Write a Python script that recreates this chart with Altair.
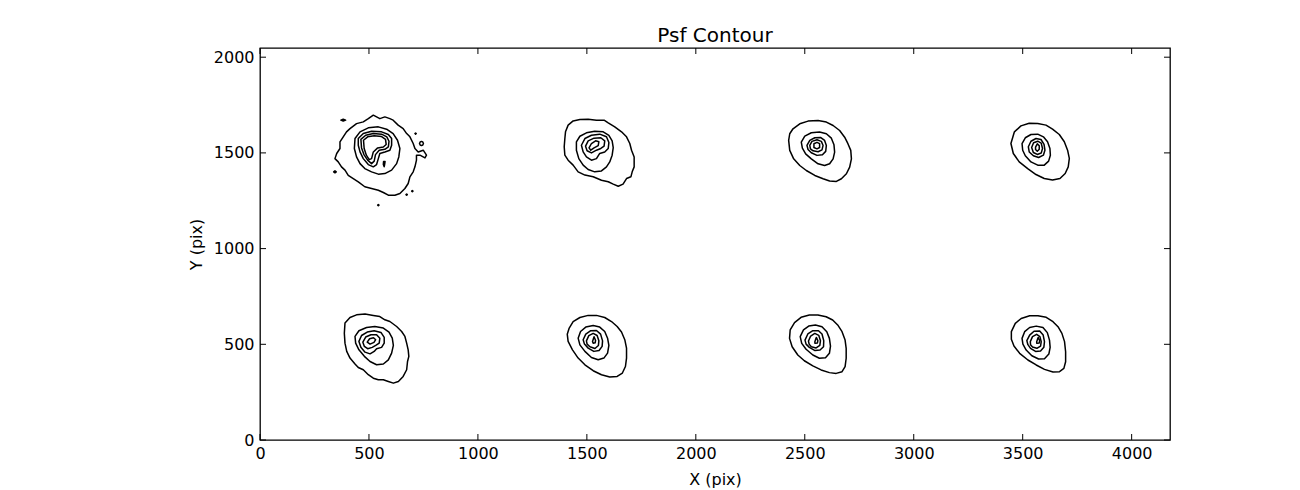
import altair as alt
import pandas as pd

# ---------------- data (pixel coordinates on the detector) ----------------
X_TICKS = [0, 500, 1000, 1500, 2000, 2500, 3000, 3500, 4000]
Y_TICKS = [0, 500, 1000, 1500, 2000]
X_MAX = 4176
Y_MAX = 2048

# PSF 1 (top-left)
P1_L1 = [(413, 1627), (443, 1653), (474, 1662), (497, 1679), (520, 1697), (535, 1688), (550, 1679),
         (573, 1688), (596, 1679), (611, 1671), (634, 1645), (657, 1627), (673, 1601), (688, 1584),
         (703, 1549), (711, 1523), (726, 1505), (749, 1514), (764, 1488), (757, 1474), (734, 1488),
         (718, 1488), (718, 1462), (711, 1427), (703, 1401), (688, 1375), (680, 1340), (665, 1314),
         (642, 1288), (619, 1279), (589, 1279), (566, 1293), (543, 1305), (512, 1314), (481, 1323),
         (451, 1349), (428, 1366), (405, 1383), (390, 1410), (374, 1427), (359, 1453), (344, 1470),
         (352, 1497), (367, 1523), (367, 1558), (382, 1584), (397, 1610)]
P1_L2 = [(436, 1575), (459, 1610), (497, 1631), (543, 1636), (581, 1624), (611, 1601), (631, 1566),
         (642, 1523), (637, 1479), (627, 1444), (604, 1410), (573, 1392), (543, 1389), (512, 1401),
         (481, 1418), (459, 1444), (443, 1479), (433, 1523)]
P1_L3 = [(451, 1575), (474, 1601), (512, 1613), (558, 1610), (589, 1596), (604, 1575), (604, 1540),
         (596, 1514), (573, 1505), (550, 1497), (543, 1470), (535, 1439), (520, 1427), (497, 1439),
         (474, 1470), (459, 1505), (451, 1540)]
P1_L4 = [(463, 1571), (485, 1592), (520, 1601), (558, 1598), (582, 1584), (592, 1561), (589, 1531),
         (573, 1519), (547, 1514), (530, 1491), (524, 1457), (512, 1444), (494, 1462), (477, 1491),
         (466, 1526)]
P1_L5 = [(475, 1566), (494, 1584), (524, 1589), (558, 1585), (576, 1571), (579, 1544), (566, 1531),
         (540, 1526), (520, 1505), (512, 1470), (501, 1465), (488, 1488), (478, 1523)]
P1_L6 = [(567, 1455), (574, 1455), (572, 1440), (570, 1428), (566, 1440)]
P1_D1 = [(371, 1671), (382, 1676), (393, 1671), (382, 1666)]
P1_D2 = [(338, 1401), (344, 1406), (350, 1401), (344, 1396)]
P1_D3 = [(732, 1549), (735, 1557), (741, 1560), (747, 1557), (750, 1549), (747, 1541), (741, 1538), (735, 1541)]
P1_D4 = [(670, 1282), (673, 1285), (676, 1282), (673, 1279)]
P1_D5 = [(696, 1300), (699, 1303), (702, 1300), (699, 1297)]
P1_D6 = [(540, 1227), (543, 1230), (546, 1227), (543, 1224)]
P1_D7 = [(711, 1601), (714, 1604), (717, 1601), (714, 1598)]

# PSF 2 (top, x~1500)
P2_L1 = [(1414, 1645), (1437, 1667), (1468, 1674), (1506, 1676), (1544, 1671), (1579, 1671),
         (1598, 1657), (1628, 1636), (1659, 1610), (1682, 1584), (1697, 1549), (1705, 1514),
         (1717, 1479), (1717, 1427), (1708, 1401), (1702, 1375), (1682, 1366), (1666, 1337),
         (1644, 1326), (1621, 1337), (1598, 1349), (1567, 1357), (1529, 1375), (1491, 1384),
         (1460, 1401), (1437, 1436), (1414, 1462), (1399, 1488), (1396, 1532), (1399, 1575), (1402, 1610)]
P2_L2 = [(1452, 1558), (1468, 1587), (1498, 1605), (1536, 1613), (1575, 1610), (1601, 1592),
         (1616, 1563), (1621, 1528), (1616, 1488), (1605, 1453), (1590, 1427), (1567, 1406),
         (1536, 1401), (1506, 1413), (1483, 1436), (1463, 1470), (1452, 1514)]
P2_L3 = [(1475, 1540), (1491, 1575), (1521, 1592), (1559, 1598), (1590, 1584), (1601, 1554),
         (1598, 1523), (1582, 1505), (1559, 1497), (1544, 1470), (1521, 1462), (1498, 1479), (1483, 1505)]
P2_L4 = [(1494, 1535), (1506, 1563), (1533, 1577), (1564, 1579), (1582, 1563), (1579, 1535),
         (1564, 1523), (1544, 1514), (1521, 1500), (1501, 1511)]
P2_L5 = [(1510, 1526), (1521, 1549), (1540, 1563), (1555, 1558), (1552, 1538), (1533, 1526), (1518, 1514)]

# PSF 3 (top, x~2550)
P3_L1 = [(2446, 1626), (2477, 1652), (2515, 1666), (2561, 1669), (2599, 1661), (2630, 1643),
         (2660, 1617), (2683, 1582), (2698, 1548), (2711, 1513), (2714, 1469), (2706, 1426),
         (2691, 1391), (2668, 1365), (2645, 1351), (2614, 1353), (2584, 1365), (2546, 1382),
         (2507, 1408), (2477, 1434), (2449, 1469), (2431, 1513), (2426, 1565), (2431, 1600)]
P3_L2 = [(2484, 1556), (2500, 1588), (2530, 1605), (2568, 1609), (2599, 1600), (2622, 1577),
         (2634, 1542), (2637, 1504), (2630, 1469), (2614, 1443), (2591, 1434), (2561, 1443),
         (2530, 1469), (2504, 1495), (2489, 1525)]
P3_L3 = [(2510, 1539), (2523, 1565), (2546, 1579), (2572, 1581), (2591, 1565), (2599, 1539),
         (2596, 1508), (2581, 1490), (2556, 1487), (2530, 1501), (2515, 1518)]
P3_L4 = [(2523, 1539), (2533, 1560), (2556, 1569), (2576, 1560), (2584, 1539), (2579, 1516),
         (2561, 1506), (2538, 1511), (2526, 1521)]
P3_L5 = [(2542, 1548), (2556, 1555), (2568, 1548), (2568, 1528), (2556, 1521), (2542, 1528)]

# PSF 4 (top, x~3570)
P4_L1 = [(3462, 1610), (3492, 1641), (3530, 1655), (3569, 1653), (3607, 1645), (3637, 1624),
         (3668, 1596), (3691, 1558), (3706, 1514), (3714, 1471), (3709, 1427), (3695, 1392),
         (3671, 1366), (3637, 1358), (3599, 1366), (3561, 1387), (3523, 1418), (3484, 1453),
         (3457, 1497), (3446, 1549)]
P4_L2 = [(3497, 1549), (3512, 1579), (3538, 1596), (3569, 1598), (3595, 1584), (3614, 1558),
         (3625, 1523), (3627, 1488), (3619, 1457), (3599, 1436), (3569, 1436), (3538, 1453),
         (3512, 1485), (3500, 1514)]
P4_L3 = [(3526, 1532), (3538, 1561), (3561, 1575), (3584, 1570), (3598, 1544), (3602, 1514),
         (3595, 1488), (3573, 1476), (3549, 1485), (3530, 1505)]
P4_L4 = [(3541, 1528), (3550, 1553), (3569, 1561), (3585, 1551), (3591, 1523), (3585, 1499),
         (3567, 1492), (3549, 1502)]
P4_L5 = [(3559, 1530), (3567, 1547), (3576, 1537), (3576, 1519), (3567, 1509), (3559, 1518)]

# PSF 5 (bottom, x~500)
P5_L1 = [(390, 611), (413, 640), (443, 654), (482, 658), (520, 651), (550, 645), (573, 628),
         (596, 619), (627, 593), (650, 567), (665, 541), (673, 506), (680, 471), (683, 437),
         (677, 410), (673, 367), (657, 332), (635, 306), (612, 297), (589, 306), (566, 315),
         (543, 315), (520, 323), (497, 341), (474, 367), (451, 379), (436, 397), (413, 428),
         (398, 463), (390, 506), (387, 558)]
P5_L2 = [(436, 541), (454, 571), (489, 588), (527, 593), (566, 585), (592, 564), (607, 532),
         (612, 494), (604, 454), (589, 419), (566, 397), (535, 393), (505, 410), (479, 437),
         (454, 471), (439, 506)]
P5_L3 = [(454, 515), (466, 546), (492, 564), (524, 571), (555, 562), (570, 536), (570, 506),
         (558, 484), (535, 477), (524, 463), (505, 450), (482, 459), (463, 484)]
P5_L4 = [(472, 511), (485, 538), (509, 550), (535, 550), (550, 532), (547, 506), (531, 494),
         (515, 484), (494, 477), (479, 489)]
P5_L5 = [(492, 511), (503, 529), (521, 534), (531, 524), (523, 510), (505, 501)]

# PSF 6 (bottom, x~1550)
P6_L1 = [(1419, 585), (1437, 619), (1468, 640), (1506, 651), (1544, 651), (1582, 640), (1613, 619),
         (1639, 593), (1659, 564), (1674, 524), (1682, 480), (1682, 428), (1677, 384), (1663, 350),
         (1639, 332), (1605, 329), (1567, 341), (1529, 362), (1491, 393), (1460, 428), (1434, 471),
         (1414, 515), (1410, 553)]
P6_L2 = [(1460, 532), (1471, 567), (1495, 590), (1529, 598), (1559, 590), (1582, 567), (1595, 532),
         (1601, 494), (1595, 454), (1578, 428), (1552, 419), (1521, 431), (1491, 463), (1468, 497)]
P6_L3 = [(1483, 524), (1495, 553), (1518, 571), (1544, 572), (1563, 553), (1572, 518), (1570, 489),
         (1556, 468), (1532, 463), (1506, 480), (1489, 501)]
P6_L4 = [(1498, 518), (1509, 545), (1529, 557), (1547, 546), (1555, 518), (1553, 494), (1537, 478),
         (1514, 487), (1501, 501)]
P6_L5 = [(1526, 515), (1530, 529), (1533, 539), (1540, 520), (1538, 508), (1529, 506)]

# PSF 7 (bottom, x~2560)
P7_L1 = [(2433, 575), (2453, 613), (2483, 641), (2521, 653), (2560, 653), (2598, 644), (2628, 627),
         (2651, 601), (2671, 566), (2685, 522), (2690, 479), (2690, 427), (2685, 383), (2671, 357),
         (2644, 348), (2613, 352), (2575, 366), (2537, 387), (2498, 414), (2468, 444), (2442, 487),
         (2430, 531)]
P7_L2 = [(2479, 540), (2494, 575), (2518, 595), (2549, 601), (2579, 592), (2601, 566), (2613, 531),
         (2618, 491), (2613, 453), (2595, 430), (2567, 427), (2537, 444), (2506, 474), (2486, 505)]
P7_L3 = [(2501, 522), (2514, 554), (2537, 571), (2563, 571), (2579, 554), (2587, 519), (2586, 487),
         (2570, 470), (2547, 467), (2521, 484), (2506, 501)]
P7_L4 = [(2517, 517), (2527, 543), (2546, 557), (2564, 547), (2572, 519), (2569, 494), (2552, 481),
         (2530, 487), (2520, 501)]
P7_L5 = [(2546, 512), (2550, 526), (2553, 536), (2560, 519), (2558, 507), (2547, 505)]

# PSF 8 (bottom, x~3570)
P8_L1 = [(3448, 566), (3466, 609), (3493, 635), (3532, 649), (3570, 649), (3608, 641), (3639, 618),
         (3662, 592), (3680, 557), (3692, 514), (3697, 461), (3697, 409), (3689, 374), (3669, 357),
         (3639, 355), (3600, 369), (3562, 392), (3524, 418), (3486, 453), (3460, 491), (3448, 526)]
P8_L2 = [(3497, 531), (3509, 566), (3532, 588), (3562, 595), (3593, 588), (3613, 561), (3623, 522),
         (3626, 484), (3620, 449), (3600, 425), (3573, 423), (3542, 440), (3516, 470), (3501, 501)]
P8_L3 = [(3519, 519), (3532, 548), (3552, 568), (3578, 569), (3594, 548), (3600, 514), (3597, 484),
         (3582, 465), (3559, 463), (3536, 479), (3524, 498)]
P8_L4 = [(3535, 514), (3545, 540), (3564, 552), (3579, 540), (3585, 514), (3582, 491), (3565, 479),
         (3545, 486), (3536, 498)]
P8_L5 = [(3564, 512), (3568, 526), (3571, 536), (3578, 519), (3576, 507), (3565, 505)]

CONTOURS = {
    "p1_l1": P1_L1, "p1_l2": P1_L2, "p1_l3": P1_L3, "p1_l4": P1_L4, "p1_l5": P1_L5, "p1_l6": P1_L6,
    "p1_d1": P1_D1, "p1_d2": P1_D2, "p1_d3": P1_D3, "p1_d4": P1_D4, "p1_d5": P1_D5, "p1_d6": P1_D6,
    "p1_d7": P1_D7,
    "p2_l1": P2_L1, "p2_l2": P2_L2, "p2_l3": P2_L3, "p2_l4": P2_L4, "p2_l5": P2_L5,
    "p3_l1": P3_L1, "p3_l2": P3_L2, "p3_l3": P3_L3, "p3_l4": P3_L4, "p3_l5": P3_L5,
    "p4_l1": P4_L1, "p4_l2": P4_L2, "p4_l3": P4_L3, "p4_l4": P4_L4, "p4_l5": P4_L5,
    "p5_l1": P5_L1, "p5_l2": P5_L2, "p5_l3": P5_L3, "p5_l4": P5_L4, "p5_l5": P5_L5,
    "p6_l1": P6_L1, "p6_l2": P6_L2, "p6_l3": P6_L3, "p6_l4": P6_L4, "p6_l5": P6_L5,
    "p7_l1": P7_L1, "p7_l2": P7_L2, "p7_l3": P7_L3, "p7_l4": P7_L4, "p7_l5": P7_L5,
    "p8_l1": P8_L1, "p8_l2": P8_L2, "p8_l3": P8_L3, "p8_l4": P8_L4, "p8_l5": P8_L5,
}

rows = []
for cid, pts in CONTOURS.items():
    for i, (px, py) in enumerate(pts):
        rows.append({"cid": cid, "i": i, "x": px, "y": py})
df = pd.DataFrame(rows)

W, H = 910, 392
FONT = "DejaVu Sans"
TICK_LEN = 6

xscale = alt.Scale(domain=[0, X_MAX], nice=False, zero=False)
yscale = alt.Scale(domain=[0, Y_MAX], nice=False, zero=False)

xaxis = alt.Axis(values=X_TICKS, grid=False, ticks=False, tickSize=0, domain=False,
                 labelFont=FONT, labelFontSize=16, labelColor="black", labelPadding=5,
                 title="X (pix)", titleFont=FONT, titleFontSize=16, titleFontWeight="normal",
                 titleColor="black", titlePadding=10, format="d", labelFlush=False)
yaxis = alt.Axis(values=Y_TICKS, grid=False, ticks=False, tickSize=0, domain=False,
                 labelFont=FONT, labelFontSize=16, labelColor="black", labelPadding=6,
                 title="Y (pix)", titleFont=FONT, titleFontSize=16, titleFontWeight="normal",
                 titleColor="black", titlePadding=9, format="d", labelFlush=False)

lines = alt.Chart(df).mark_line(
    interpolate="linear-closed", color="black", strokeWidth=1.5, strokeJoin="round"
).encode(
    x=alt.X("x:Q", scale=xscale, axis=xaxis),
    y=alt.Y("y:Q", scale=yscale, axis=yaxis),
    detail="cid:N",
    order=alt.Order("i:Q"),
)

xt = pd.DataFrame({"v": X_TICKS})
yt = pd.DataFrame({"v": Y_TICKS})

tick_style = dict(color="black", strokeWidth=1)
xt_bottom = alt.Chart(xt).mark_rule(**tick_style).encode(
    x=alt.X("v:Q", scale=xscale), y=alt.value(H), y2=alt.value(H - TICK_LEN))
xt_top = alt.Chart(xt).mark_rule(**tick_style).encode(
    x=alt.X("v:Q", scale=xscale), y=alt.value(0), y2=alt.value(TICK_LEN))
yt_left = alt.Chart(yt).mark_rule(**tick_style).encode(
    y=alt.Y("v:Q", scale=yscale), x=alt.value(0), x2=alt.value(TICK_LEN))
yt_right = alt.Chart(yt).mark_rule(**tick_style).encode(
    y=alt.Y("v:Q", scale=yscale), x=alt.value(W), x2=alt.value(W - TICK_LEN))

chart = alt.layer(lines, xt_bottom, xt_top, yt_left, yt_right).properties(
    width=W, height=H,
    title=alt.TitleParams("Psf Contour", font=FONT, fontSize=20, fontWeight="normal",
                          color="black", anchor="middle", offset=2),
    autosize=alt.AutoSizeParams(type="none"),
    padding={"left": 252, "top": 40, "right": 122, "bottom": 50},
    background="white",
).configure_view(stroke="black", strokeWidth=1.3)

chart.save("out.html", embed_options={"renderer": "svg", "actions": False})
